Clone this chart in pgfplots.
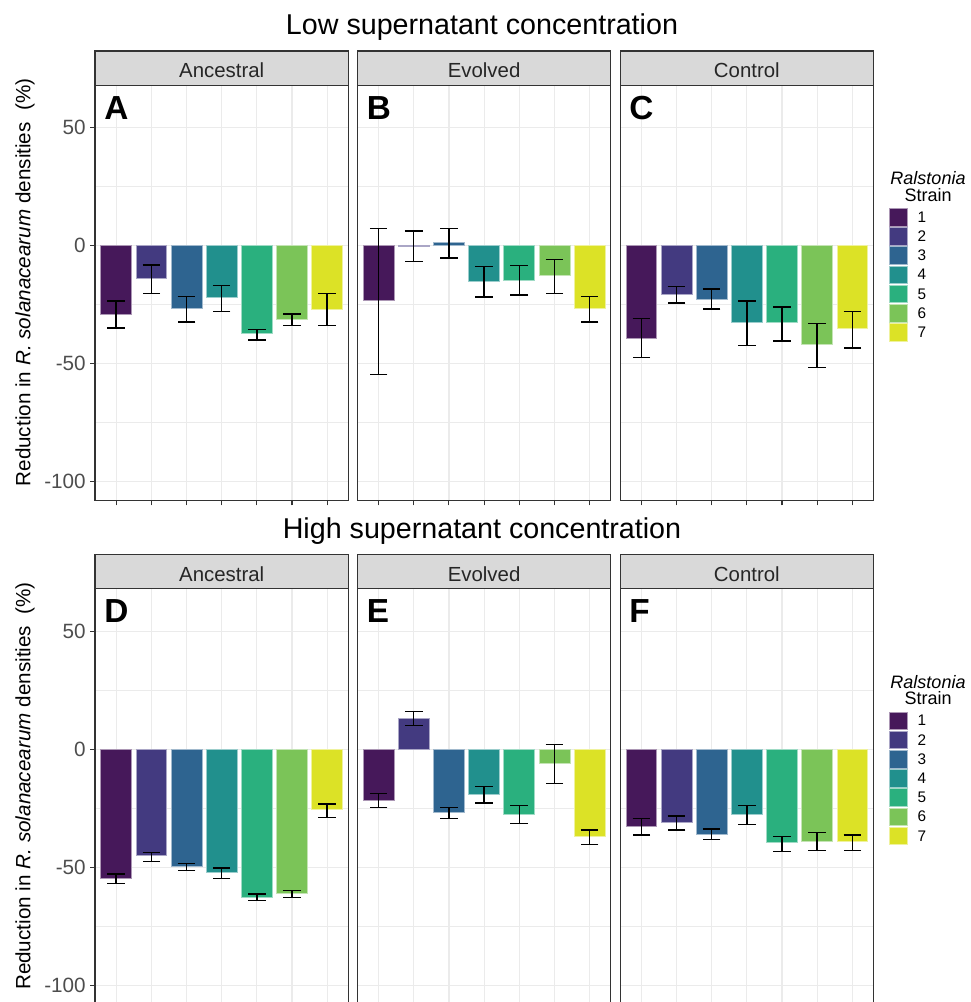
\documentclass[border=0pt]{standalone}
\usepackage{pgfplots}
\pgfplotsset{compat=1.18}
\usepackage{pgfplotstable}
\usepackage{fontspec}
\setmainfont{Liberation Sans}

\definecolor{c1}{HTML}{46185A}
\definecolor{c2}{HTML}{433A80}
\definecolor{c3}{HTML}{2E6490}
\definecolor{c4}{HTML}{21908D}
\definecolor{c5}{HTML}{2AB07E}
\definecolor{c6}{HTML}{7BC458}
\definecolor{c7}{HTML}{DCE226}
\definecolor{bordc}{HTML}{333333}
\definecolor{gridc}{HTML}{EBEBEB}
\definecolor{stripc}{HTML}{D9D9D9}
\definecolor{tickc}{HTML}{4D4D4D}

% x = strain, y = mean reduction, hi/lo = error bar ends
\pgfplotstableread{
x y hi lo
1 -29.2 -23.4 -34.9
2 -14.0 -8.2 -20.3
3 -26.7 -21.4 -32.3
4 -22.0 -16.9 -27.8
5 -37.2 -35.5 -40.0
6 -31.1 -28.9 -33.9
7 -27.1 -20.3 -33.9
}\tA
\pgfplotstableread{
x y hi lo
1 -23.1 7.2 -54.6
2 -0.3 6.2 -6.8
3 1.3 7.2 -5.2
4 -15.0 -8.8 -21.8
5 -14.6 -8.4 -20.9
6 -12.5 -5.8 -20.3
7 -26.5 -21.4 -32.3
}\tB
\pgfplotstableread{
x y hi lo
1 -39.1 -30.9 -47.4
2 -20.4 -17.4 -24.3
3 -22.6 -18.3 -26.8
4 -32.5 -23.4 -42.4
5 -32.5 -26.0 -40.4
6 -42.0 -32.9 -51.5
7 -35.0 -27.8 -43.4
}\tC
\pgfplotstableread{
x y hi lo
1 -54.5 -52.8 -56.9
2 -44.9 -43.8 -47.5
3 -49.4 -48.4 -51.4
4 -52.1 -50.3 -54.8
5 -62.6 -61.3 -64.0
6 -61.0 -59.9 -62.9
7 -25.4 -23.2 -28.8
}\tD
\pgfplotstableread{
x y hi lo
1 -21.5 -18.6 -24.7
2 13.1 16.0 10.0
3 -26.8 -24.7 -29.4
4 -18.9 -15.7 -22.7
5 -27.5 -23.7 -31.4
6 -5.8 2.0 -14.5
7 -37.0 -34.2 -40.3
}\tE
\pgfplotstableread{
x y hi lo
1 -32.5 -29.2 -36.3
2 -30.9 -28.2 -34.2
3 -35.9 -33.8 -38.3
4 -27.5 -23.7 -31.8
5 -39.4 -36.9 -43.4
6 -39.0 -35.3 -42.8
7 -39.0 -36.3 -42.8
}\tF

\pgfplotsset{
  panel/.style={
    scale only axis, width=189.9pt, height=311.55pt,
    anchor=south west,
    xmin=0.4, xmax=7.6, ymin=-108, ymax=68,
    xtick={1,...,7}, xticklabels={},
    ytick={-100,-50,0,50}, yticklabels={-100,-50,0,50},
    minor ytick={-75,-25,25},
    grid=both,
    major grid style={draw=gridc, line width=0.9pt},
    minor grid style={draw=gridc, line width=0.45pt},
    axis line style={draw=bordc, line width=0.9pt},
    tick style={draw=bordc, line width=0.8pt},
    tick align=outside, tick pos=left,
    major tick length=3.5pt, minor tick length=0pt,
    yticklabel style={font=\fontsize{15.5}{15.5}\selectfont, text=tickc},
    clip=false,
  },
  noy/.style={yticklabels={}, ytick style={draw=none}},
}

\newcommand{\panel}[4]{%
\begin{axis}[panel, at={(#1,#2)}, #4]
\pgfplotsinvokeforeach{1,...,7}{
  \addplot[ybar, bar width=0.88, bar shift=0pt, fill=c##1, draw=c##1!45!white, line width=0.5pt]
    table[x=x, y=y, restrict x to domain=##1:##1] {#3};
}
\addplot[draw=none, mark=none,
  error bars/.cd, y dir=both, y explicit,
  error bar style={line width=1.05pt, draw=black},
  error mark options={rotate=90, mark size=6.6pt, line width=1.05pt, draw=black}]
  table[x=x, y=y, y error plus expr=\thisrow{hi}-\thisrow{y}, y error minus expr=\thisrow{y}-\thisrow{lo}] {#3};
\end{axis}}

\newcommand{\strain}[1]{% #1 = y offset (px)
  \node[anchor=base, font=\fontsize{13.5}{13.5}\selectfont\itshape] at (928,184.5+#1) {Ralstonia};
  \node[anchor=base, font=\fontsize{13.5}{13.5}\selectfont] at (928,201+#1) {Strain};
  \foreach \i in {1,...,7}{
    \fill[c\i, draw=c\i!45!white, line width=0.4pt] (889,{208.3+19.2*(\i-1)+#1}) rectangle ++(18,17.5);
    \node[anchor=west, font=\fontsize{11.5}{11.5}\selectfont] at (913,{217+19.2*(\i-1)+#1}) {\i};
  }
}

\begin{document}
\begin{tikzpicture}[x=0.75pt, y=-0.75pt]
\useasboundingbox (0,0) rectangle (970,1002);

% ---------- top row ----------
\panel{71.3pt}{-375.45pt}{\tA}{}
\panel{268.125pt}{-375.45pt}{\tB}{noy}
\panel{465.15pt}{-375.45pt}{\tC}{noy}
% ---------- bottom row ----------
\panel{71.3pt}{-753.15pt}{\tD}{}
\panel{268.125pt}{-753.15pt}{\tE}{noy}
\panel{465.15pt}{-753.15pt}{\tF}{noy}

% strips
\foreach \xl/\lab in {95.07/Ancestral, 357.5/Evolved, 620.2/Control}{
  \draw[fill=stripc, draw=bordc, line width=0.9pt] (\xl,51) rectangle ({\xl+253.2},85.2);
  \node[anchor=base, font=\fontsize{15.3}{15.3}\selectfont, text=black!85] at ({\xl+126.6},77.7) {\lab};
  \draw[fill=stripc, draw=bordc, line width=0.9pt] (\xl,554.6) rectangle ({\xl+253.2},588.8);
  \node[anchor=base, font=\fontsize{15.3}{15.3}\selectfont, text=black!85] at ({\xl+126.6},581.3) {\lab};
}

% panel letters
\foreach \xl/\la/\lb in {95.07/A/D, 357.5/B/E, 620.2/C/F}{
  \node[anchor=base west, inner sep=0pt, font=\fontsize{25}{25}\selectfont\bfseries] at ({\xl+9},119.3) {\la};
  \node[anchor=base west, inner sep=0pt, font=\fontsize{25}{25}\selectfont\bfseries] at ({\xl+9},622.5) {\lb};
}

% titles
\node[anchor=base, font=\fontsize{21.5}{21.5}\selectfont] at (482,34.3) {Low supernatant concentration};
\node[anchor=base, font=\fontsize{21.5}{21.5}\selectfont] at (482,538.3) {High supernatant concentration};

% y labels
\node[rotate=90, font=\fontsize{15.5}{15.5}\selectfont] at (25,282.5) {Reduction in \textit{R. solanacearum} densities~ (\%)};
\node[rotate=90, font=\fontsize{15.5}{15.5}\selectfont] at (25,786) {Reduction in \textit{R. solanacearum} densities~ (\%)};

% legends
\strain{0}
\strain{503.6}
\end{tikzpicture}
\end{document}
